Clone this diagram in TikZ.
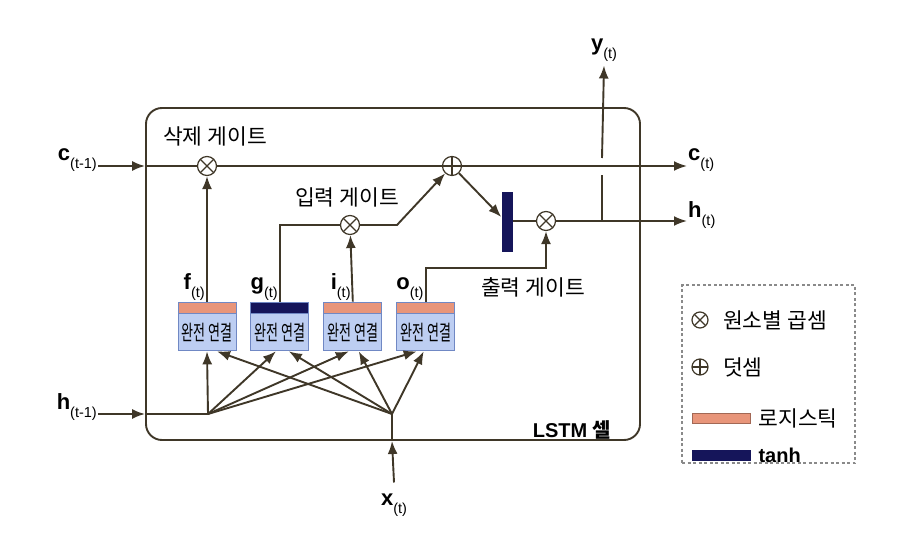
\documentclass[tikz,border=0pt]{standalone}
\usepackage{graphicx}
\usepackage{fontspec}
\setmainfont{Liberation Sans}
\newfontfamily\krfont{Noto Sans CJK KR}
\usetikzlibrary{arrows.meta,positioning}

\definecolor{wirec}{HTML}{3F3728}
\definecolor{sigc}{HTML}{E8957A}
\definecolor{tanhc}{HTML}{15155A}
\definecolor{fcfill}{HTML}{BDCEF2}
\definecolor{fcdraw}{HTML}{7088C4}
\definecolor{legc}{HTML}{8A8A8A}

% bold vector with (t) style subscript
\newcommand{\vlab}[2]{\textbf{#1}\raisebox{-8pt}{\fontsize{14.5}{14.5}\selectfont(#2)}}

\begin{document}
\begin{tikzpicture}[
    x=1pt, y=-1pt,
    wire/.style={draw=wirec, line width=1.9pt},
    arr/.style={wire, -{Latex[length=13pt,width=10pt]}},
    opnode/.style={circle, draw=wirec, line width=1.2pt, minimum size=19pt, inner sep=0pt},
    mulop/.style={opnode, path picture={
        \draw[wirec, line width=1.2pt] (path picture bounding box.north west) -- (path picture bounding box.south east)
          (path picture bounding box.north east) -- (path picture bounding box.south west);}},
    addop/.style={opnode, path picture={
        \draw[wirec, line width=1.2pt] (path picture bounding box.north) -- (path picture bounding box.south)
          (path picture bounding box.east) -- (path picture bounding box.west);}},
    fchead/.style={rectangle, draw=fcdraw, line width=0.9pt, minimum width=58pt, minimum height=11pt, inner sep=0pt},
    fcbody/.style={rectangle, draw=fcdraw, fill=fcfill, line width=0.9pt, minimum width=58pt, minimum height=37pt,
        inner sep=0pt, font=\krfont\fontsize{21}{21}\selectfont},
    vec/.style={inner sep=1pt, font=\fontsize{22}{22}\selectfont},
    kr/.style={inner sep=0pt, font=\krfont\fontsize{21.5}{21.5}\selectfont},
    legbar/.style={rectangle, line width=0.6pt, minimum width=58pt, minimum height=10pt, inner sep=0pt}
]
  \useasboundingbox (0,0) rectangle (913,559);

  % the cell
  \node[draw=wirec, line width=1.9pt, rounded corners=16pt, minimum width=494pt, minimum height=332pt] (cell) at (393,274) {};

  % gates and operations
  \node[mulop] (fgt) at (207,166) {};
  \node[addop] (sum) at (452,166) {};
  \node[mulop] (igt) at (350,225) {};
  \node[mulop] (ogt) at (546,221) {};
  \node[rectangle, fill=tanhc, minimum width=11pt, minimum height=60pt, inner sep=0pt] (tanhbar) at (507,222) {};

  % fully connected layers
  \node[fchead, fill=sigc] (fh) at (207,307.5) {};
  \node[fchead, fill=tanhc, right=14pt of fh] (gh) {};
  \node[fchead, fill=sigc, right=14pt of gh] (ih) {};
  \node[fchead, fill=sigc, right=14pt of ih] (oh) {};
  \foreach \g in {f,g,i,o}{
    \node[fcbody, below=0pt of \g h] (\g b) {\scalebox{0.62}[1]{완전 연결}};
    \node[vec, above left=0pt and 1pt of \g h.north] (\g lab) {\vlab{\g}{t}};
  }

  % inputs and outputs
  \coordinate (hfan) at (208,414);
  \coordinate (xfan) at (392,414);
  \coordinate (ysplit) at (602,221);
  \node[vec, anchor=east] (cprev) at (98,160) {\vlab{c}{t-1}};
  \node[vec, anchor=east] (hprev) at (98,407) {\vlab{h}{t-1}};
  \node[vec] (xin) at (394,505) {\vlab{x}{t}};
  \node[vec, anchor=west] (cnext) at (687,160) {\vlab{c}{t}};
  \node[vec, anchor=west] (hnext) at (687,215) {\vlab{h}{t}};
  \node[vec] (yout) at (604,50) {\vlab{y}{t}};

  % labels
  \node[kr] at (215,136) {삭제 게이트};
  \node[kr] at (347,197) {입력 게이트};
  \node[kr] at (533,287) {출력 게이트};
  \node[inner sep=0pt, font=\fontsize{20}{20}\selectfont\bfseries] at (572,430) {LSTM {\krfont 셀}};

  % long term state
  \draw[arr] (cprev.east |- fgt) -- (cell.west |- fgt);
  \draw[wire] (cell.west |- fgt) -- (fgt);
  \draw[wire] (fgt) -- (sum);
  \draw[arr] (sum) -- (cnext.west |- sum);

  % short term state and output
  \draw[arr] (sum) -- ([yshift=5pt]tanhbar.west);
  \draw[wire] (tanhbar.east |- ogt) -- (ogt);
  \draw[arr] (ogt) -- (hnext.west |- ogt);
  \draw[wire] (ysplit) -- ++(0,-46);
  \draw[arr] ([yshift=63pt]ysplit) -- ([yshift=-3pt]yout.south);

  % gate connections
  \draw[arr] (fh.north) -- (fgt);
  \draw[wire] (gh.north) |- (igt);
  \draw[arr] (ih.north) -- (igt);
  \draw[arr] (igt) -- ++(47,0) -- (sum);
  \draw[arr] (oh.north) -- ++(0,-34) -| (ogt);

  % inputs to the layers
  \draw[arr] (hprev.east |- hfan) -- (cell.west |- hfan);
  \draw[wire] (cell.west |- hfan) -- (hfan);
  \draw[arr] ([yshift=10pt]xin.north) -- (cell.south -| xfan);
  \draw[wire] (cell.south -| xfan) -- (xfan);
  \draw[arr] (hfan) -- (fb.south);
  \draw[arr] (hfan) -- ([xshift=-4pt]gb.south);
  \draw[arr] (hfan) -- ([xshift=-4pt]ib.south);
  \draw[arr] (hfan) -- ([xshift=-9pt]ob.south);
  \draw[arr] (xfan) -- ([xshift=10pt]fb.south);
  \draw[arr] (xfan) -- ([xshift=9pt]gb.south);
  \draw[arr] (xfan) -- ([xshift=6pt]ib.south);
  \draw[arr] (xfan) -- ([xshift=-2pt]ob.south);

  % legend
  \node[draw=legc, dash pattern=on 3pt off 2.5pt, line width=1.1pt, minimum width=173pt, minimum height=178pt] (legend) at (768.5,374) {};
  \node[mulop, minimum size=16pt] (lmul) at (700,320) {};
  \node[kr, anchor=west] at (723,320) {원소별 곱셈};
  \node[addop, minimum size=16pt] (ladd) at (700,367) {};
  \node[kr, anchor=west] at (723,367) {덧셈};
  \node[legbar, fill=sigc, draw=sigc!70!black] (lsig) at (721,418) {};
  \node[kr, anchor=west, right=8pt of lsig] {로지스틱};
  \node[legbar, fill=tanhc, draw=tanhc] (ltanh) at (721,455) {};
  \node[inner sep=0pt, font=\fontsize{20}{20}\selectfont\bfseries, right=8pt of ltanh] {tanh};
\end{tikzpicture}
\end{document}
